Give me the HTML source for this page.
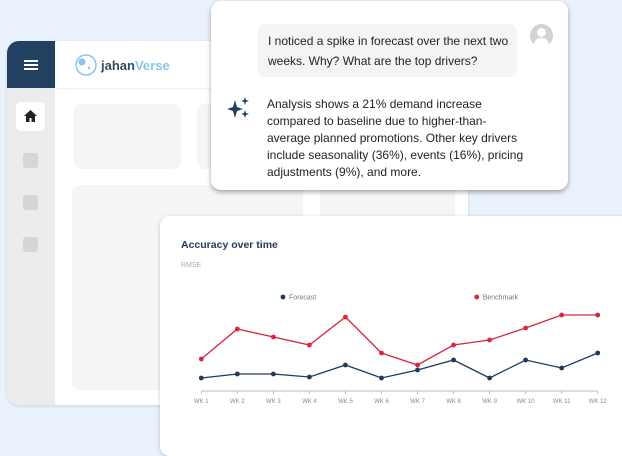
<!DOCTYPE html>
<html><head><meta charset="utf-8">
<style>
*{box-sizing:border-box;margin:0;padding:0}
body{width:622px;height:450px;overflow:hidden;background:#e8f1fc;font-family:"Liberation Sans",sans-serif;position:relative}
.abs{position:absolute}
</style></head><body>
<div class="abs" style="left:7px;top:41px;width:461px;height:364px;background:#fff;border-radius:12px;overflow:hidden;box-shadow:0 1px 3px rgba(0,0,0,.12)">
  <div class="abs" style="left:0;top:0;width:48px;height:364px;background:#ececec"></div>
  <div class="abs" style="left:0;top:0;width:48px;height:47px;background:#22405f">
    <div class="abs" style="left:17px;top:19px;width:14px;height:2px;background:#fff;box-shadow:0 4px 0 #fff,0 8px 0 #fff"></div>
  </div>
  <div class="abs" style="left:9px;top:61px;width:29px;height:29px;background:#fff;border-radius:5px">
    <svg class="abs" style="left:8px;top:8px" width="13" height="12" viewBox="0 0 13 12"><path d="M6.5 0L0 6h2v6h3.5V8h2v4H11V6h2z" fill="#222"/></svg>
  </div>
  <div class="abs" style="left:16px;top:112px;width:15px;height:15px;background:#d6d6d6;border-radius:3px"></div>
  <div class="abs" style="left:16px;top:154px;width:15px;height:15px;background:#d6d6d6;border-radius:3px"></div>
  <div class="abs" style="left:16px;top:196px;width:15px;height:15px;background:#d6d6d6;border-radius:3px"></div>
  <div class="abs" style="left:48px;top:47px;width:413px;height:1px;background:#f0f0f0"></div>
  <div class="abs" style="left:68px;top:12px;height:24px;display:flex;align-items:center">
    <svg width="22" height="22" viewBox="0 0 22 22"><circle cx="11" cy="11" r="10" fill="none" stroke="#8cc4e8" stroke-width="1.5"/><circle cx="7" cy="8" r="3.5" fill="#8cc4e8"/><circle cx="14" cy="14" r="1.2" fill="#8cc4e8"/></svg>
    <span style="margin-left:4px;font-size:13px;font-weight:bold;color:#344a60">jahan<span style="color:#8cc4e8">Verse</span></span>
  </div>
  <div class="abs" style="left:67px;top:63px;width:107px;height:65px;background:#f5f5f5;border-radius:8px"></div>
  <div class="abs" style="left:190px;top:63px;width:107px;height:65px;background:#f5f5f5;border-radius:8px"></div>
  <div class="abs" style="left:65px;top:144px;width:231px;height:205px;background:#f5f5f5;border-radius:8px"></div>
  <div class="abs" style="left:313px;top:144px;width:135px;height:205px;background:#f5f5f5;border-radius:8px"></div>
</div>

<div class="abs" style="left:211px;top:1px;width:357px;height:189px;background:#fff;border-radius:10px;box-shadow:0 2px 5px rgba(0,0,0,.35)">
  <div class="abs" style="left:47px;top:23px;width:259px;height:53px;background:#f4f4f4;border-radius:8px;padding:7px 10px;font-size:12px;line-height:20px;color:#222;white-space:nowrap">I noticed a spike in forecast over the next two<br>weeks. Why? What are the top drivers?</div>
  <div class="abs" style="left:319px;top:23px;width:23px;height:23px;border-radius:50%;background:#d3d3d3;overflow:hidden">
    <div class="abs" style="left:7px;top:4px;width:9px;height:9px;border-radius:50%;background:#fff"></div>
    <div class="abs" style="left:4px;top:14px;width:15px;height:12px;border-radius:7px 7px 0 0;background:#fff"></div>
  </div>
  <svg class="abs" style="left:16px;top:96px" width="24" height="22" viewBox="0 0 24 22"><path d="M8 3 L10 10 L16 12 L10 14 L8 21 L6 14 L0 12 L6 10Z" fill="#22405f"/><path d="M18 0 L19 3 L22 4 L19 5 L18 8 L17 5 L14 4 L17 3Z" fill="#22405f"/><path d="M18 13 L19 16 L22 17 L19 18 L18 21 L17 18 L14 17 L17 16Z" fill="#22405f"/></svg>
  <div class="abs" style="left:56px;top:95px;width:300px;font-size:12px;line-height:17px;color:#222">Analysis shows a 21% demand increase<br>compared to baseline due to higher-than-<br>average planned promotions. Other key drivers<br>include seasonality (36%), events (16%), pricing<br>adjustments (9%), and more.</div>
</div>

<div class="abs" style="left:160px;top:216px;width:470px;height:240px;background:#fff;border-radius:10px;box-shadow:0 1px 4px rgba(0,0,0,.2)">
  <div class="abs" style="left:21px;top:23px;font-size:10.5px;font-weight:bold;color:#1f3a5c">Accuracy over time</div>
  <div class="abs" style="left:21px;top:46px;font-size:7px;color:#b0b0b0">RMSE</div>
</div>
<svg class="abs" id="chart" style="left:0;top:0" width="622" height="450"></svg>
<script>
const categories=["WK 1","WK 2","WK 3","WK 4","WK 5","WK 6","WK 7","WK 8","WK 9","WK 10","WK 11","WK 12"];
const forecastValues=[1.3,1.7,1.7,1.4,2.6,1.3,2.1,3.1,1.3,3.1,2.3,3.8];
const benchmarkValues=[3.2,6.2,5.4,4.6,7.4,3.8,2.6,4.6,5.1,6.3,7.6,7.6];
const seriesNames=["Forecast","Benchmark"];
const svg=document.getElementById('chart');
const NS='http://www.w3.org/2000/svg';
const x0=201.3,x1=597.7,yBase=391,yPer=10;
const xs=i=>x0+(x1-x0)*i/(categories.length-1);
const ys=v=>yBase-v*yPer;
function mk(t,a){const e=document.createElementNS(NS,t);for(const k in a)e.setAttribute(k,a[k]);svg.appendChild(e);return e;}
const axis=mk('line',{x1:x0,x2:x1,y1:yBase,y2:yBase,stroke:'#bbb','stroke-width':1});


categories.forEach((c,i)=>{
  const t=mk('line',{x1:xs(i),x2:xs(i),y1:yBase,y2:yBase+3,stroke:'#bbb'});
  
  
  const l=mk('text',{x:xs(i),y:yBase+12,'text-anchor':'middle','font-size':'6','fill':'#888','font-family':'Liberation Sans, sans-serif'});
  l.textContent=c;
  
  
});
function series(vals,color,name){
  const p=mk('polyline',{points:vals.map((v,i)=>xs(i)+','+ys(v)).join(' '),fill:'none',stroke:color,'stroke-width':1.3});
  
  
  vals.forEach((v,i)=>{
    const c=mk('circle',{cx:xs(i),cy:ys(v),r:2.4,fill:color});
    
    
  });
}
series(benchmarkValues,'#d7263d','benchmark');
series(forecastValues,'#1f3a5c','forecast');
[[283,'#1f3a5c',seriesNames[0]],[476.7,'#d7263d',seriesNames[1]]].forEach(([x,c,n])=>{
  const d=mk('circle',{cx:x,cy:297,r:2.4,fill:c});
  
  
  const t=mk('text',{x:x+6,y:299.5,'font-size':'7','fill':'#777','font-family':'Liberation Sans, sans-serif'});
  t.textContent=n;
  
  
});
</script>
</body></html>
